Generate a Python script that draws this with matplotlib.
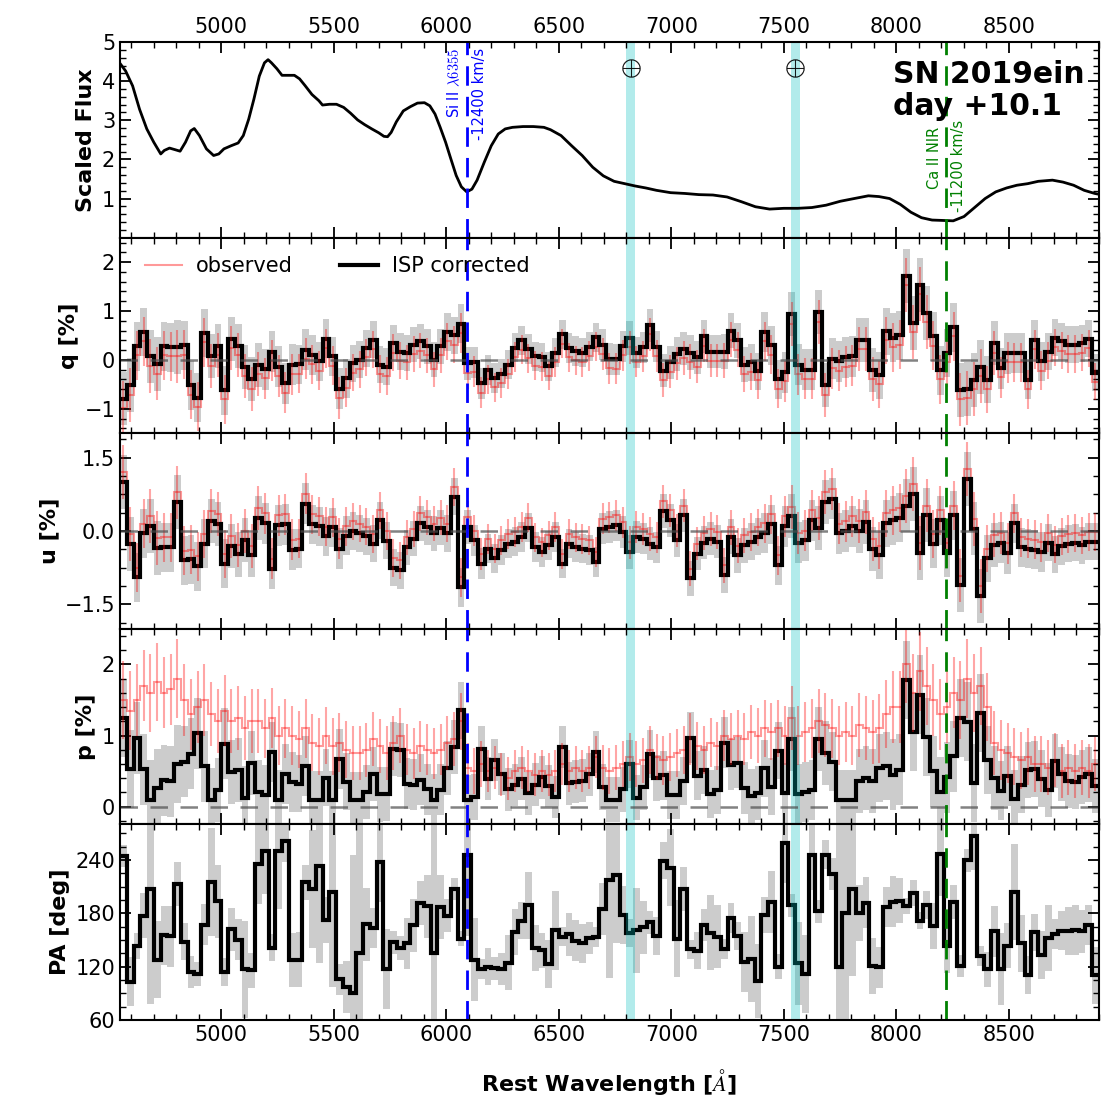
import numpy as np
import matplotlib
matplotlib.use('Agg')
import matplotlib.pyplot as plt
from matplotlib.ticker import MultipleLocator, AutoMinorLocator
from matplotlib.lines import Line2D

plt.rcParams['mathtext.fontset'] = 'cm'

# SPECTRUM ---------------------------------------------------------------------
flux_wave = [4548, 4575, 4606, 4637, 4653, 4669, 4700, 4731, 4747, 4770, 4794, 4817,
             4841, 4864, 4880, 4903, 4934, 4966, 4989, 5012, 5044, 5075, 5098, 5122,
             5145, 5169, 5192, 5208, 5223, 5247, 5270, 5294, 5325, 5348, 5372, 5403,
             5434, 5450, 5481, 5512, 5544, 5575, 5606, 5637, 5669, 5700, 5723, 5739,
             5755, 5778, 5809, 5841, 5872, 5903, 5927, 5950, 5973, 5997, 6020, 6044,
             6067, 6091, 6114, 6137, 6169, 6200, 6231, 6262, 6294, 6341, 6387, 6434,
             6463, 6510, 6557, 6604, 6651, 6698, 6746, 6793, 6840, 6887, 6934, 6997,
             7060, 7123, 7185, 7248, 7311, 7374, 7437, 7500, 7562, 7625, 7688, 7751,
             7813, 7876, 7923, 7970, 8018, 8065, 8112, 8159, 8206, 8253, 8301, 8348,
             8395, 8442, 8490, 8536, 8584, 8631, 8694, 8741, 8788, 8835, 8882, 8900]
flux = [4.47, 4.26, 3.88, 3.28, 3.03, 2.78, 2.44, 2.14, 2.23, 2.29, 2.25, 2.21,
        2.44, 2.73, 2.79, 2.61, 2.27, 2.10, 2.14, 2.27, 2.35, 2.42, 2.61, 3.03,
        3.54, 4.13, 4.47, 4.55, 4.47, 4.32, 4.15, 4.15, 4.15, 4.06, 3.89, 3.66,
        3.50, 3.39, 3.41, 3.41, 3.33, 3.18, 3.01, 2.89, 2.78, 2.68, 2.59, 2.58,
        2.69, 2.96, 3.24, 3.35, 3.44, 3.45, 3.37, 3.16, 2.82, 2.44, 2.02, 1.59,
        1.30, 1.17, 1.24, 1.47, 1.93, 2.35, 2.65, 2.78, 2.82, 2.84, 2.84, 2.82,
        2.76, 2.61, 2.35, 2.10, 1.80, 1.58, 1.44, 1.38, 1.32, 1.27, 1.21, 1.15,
        1.13, 1.10, 1.09, 1.04, 0.92, 0.79, 0.73, 0.75, 0.75, 0.77, 0.83, 0.93,
        1.00, 1.07, 1.05, 1.00, 0.85, 0.65, 0.51, 0.45, 0.44, 0.43, 0.54, 0.77,
        1.00, 1.17, 1.27, 1.34, 1.38, 1.44, 1.47, 1.42, 1.34, 1.21, 1.13, 1.11]

# POLARIMETRY (30 A bins, ISP corrected) ---------------------------------------
bin_edges = np.arange(4550, 8901, 30)
q_corr = [-0.79, -0.52, 0.28, 0.57, 0.07, -0.09, 0.28, 0.26, 0.26, 0.30,
          -0.52, -0.77, 0.55, 0.07, 0.28, -0.62, 0.43, 0.28, -0.14, -0.40,
          -0.10, -0.19, 0.17, -0.14, -0.48, -0.10, -0.09, 0.21, 0.10, -0.03,
          0.43, 0.07, -0.59, -0.38, -0.07, 0.00, 0.24, 0.41, -0.10, -0.14,
          0.34, 0.17, 0.14, 0.31, 0.38, 0.28, 0.00, 0.28, 0.57, 0.50,
          0.74, -0.07, -0.05, -0.48, -0.21, -0.37, -0.28, -0.10, 0.25, 0.40,
          0.22, 0.07, 0.05, -0.13, 0.15, 0.52, 0.24, 0.18, 0.15, 0.27,
          0.46, 0.31, 0.02, 0.01, 0.28, 0.45, 0.15, 0.26, 0.71, 0.27,
          -0.22, -0.05, 0.12, 0.23, 0.15, 0.05, 0.48, 0.17, 0.17, 0.17,
          0.60, 0.40, -0.10, -0.05, -0.23, 0.57, 0.30, -0.40, -0.25, 0.93,
          -0.10, -0.20, -0.20, 0.97, -0.52, 0.02, -0.03, 0.05, 0.07, 0.41,
          0.41, -0.20, -0.31, 0.59, 0.45, 0.50, 1.72, 0.76, 1.53, 0.96,
          0.48, -0.21, 0.14, 0.67, -0.62, -0.59, -0.41, -0.14, -0.41, 0.34,
          -0.17, 0.14, 0.14, 0.14, -0.41, 0.41, -0.03, 0.17, 0.45, 0.38,
          0.31, 0.31, 0.34, 0.43, -0.26]
u_corr = [1.00, -0.26, -0.95, -0.05, 0.10, -0.35, -0.33, -0.33, 0.59, -0.60,
          -0.58, -0.72, -0.26, 0.20, 0.14, -0.67, -0.31, -0.48, -0.19, -0.50,
          0.27, 0.16, -0.77, 0.12, 0.14, -0.38, -0.36, 0.56, 0.14, 0.10,
          -0.11, 0.08, -0.36, -0.10, 0.00, -0.05, -0.11, -0.26, 0.22, -0.20,
          -0.75, -0.80, -0.33, -0.16, 0.16, 0.08, -0.05, 0.07, -0.05, 0.70,
          -1.15, 0.08, -0.19, -0.67, -0.36, -0.56, -0.39, -0.26, -0.22, -0.12,
          0.07, -0.33, -0.43, -0.29, -0.12, -0.67, -0.26, -0.33, -0.36, -0.39,
          -0.63, 0.05, 0.08, 0.12, -0.02, -0.43, -0.12, -0.16, -0.26, -0.33,
          0.41, 0.22, -0.19, 0.32, -0.97, -0.46, -0.24, -0.16, -0.22, -0.90,
          -0.12, -0.50, -0.29, -0.22, -0.12, -0.04, 0.14, -0.70, 0.10, 0.30,
          -0.24, -0.19, 0.22, 0.07, 0.59, 0.66, -0.05, 0.00, 0.10, 0.01,
          0.18, -0.36, -0.50, 0.16, 0.22, 0.27, 0.52, 0.76, -0.45, 0.32,
          -0.26, 0.22, -0.45, 0.32, -1.11, 1.07, 0.05, -1.33, -0.56, -0.29,
          -0.24, -0.45, 0.16, -0.33, -0.36, -0.38, -0.43, -0.24, -0.48, -0.31,
          -0.26, -0.24, -0.29, -0.22, -0.22]
pol_err = [0.55, 0.55, 0.50, 0.50, 0.55, 0.55, 0.50, 0.50, 0.55, 0.50,
           0.50, 0.50, 0.50, 0.45, 0.45, 0.50, 0.45, 0.45, 0.45, 0.45,
           0.45, 0.42, 0.42, 0.42, 0.42, 0.42, 0.40, 0.42, 0.40, 0.40,
           0.40, 0.40, 0.42, 0.40, 0.38, 0.38, 0.38, 0.38, 0.38, 0.38,
           0.38, 0.38, 0.36, 0.36, 0.36, 0.36, 0.36, 0.36, 0.38, 0.38,
           0.40, 0.34, 0.32, 0.32, 0.30, 0.30, 0.30, 0.30, 0.30, 0.30,
           0.30, 0.30, 0.30, 0.30, 0.30, 0.30, 0.30, 0.30, 0.30, 0.30,
           0.30, 0.32, 0.32, 0.32, 0.32, 0.34, 0.32, 0.32, 0.34, 0.32,
           0.34, 0.34, 0.34, 0.34, 0.36, 0.34, 0.34, 0.34, 0.34, 0.36,
           0.36, 0.36, 0.36, 0.38, 0.38, 0.40, 0.40, 0.40, 0.42, 0.45,
           0.42, 0.42, 0.42, 0.45, 0.45, 0.42, 0.42, 0.42, 0.42, 0.45,
           0.45, 0.45, 0.48, 0.48, 0.50, 0.50, 0.55, 0.55, 0.55, 0.55,
           0.50, 0.50, 0.50, 0.50, 0.55, 0.55, 0.55, 0.55, 0.48, 0.45,
           0.42, 0.42, 0.40, 0.40, 0.40, 0.40, 0.40, 0.38, 0.38, 0.38,
           0.38, 0.38, 0.38, 0.38, 0.38]
# observed (not ISP corrected) polarization degree
p_observed = [1.50, 1.35, 1.50, 1.70, 1.60, 1.75, 1.60, 1.65, 1.80, 1.50,
              1.30, 1.40, 1.50, 1.30, 1.20, 1.35, 1.20, 1.25, 1.10, 1.20,
              1.20, 1.10, 1.25, 1.00, 1.10, 1.00, 0.95, 1.10, 0.90, 0.85,
              1.00, 0.85, 0.90, 0.80, 0.75, 0.75, 0.80, 0.95, 0.85, 0.75,
              0.90, 1.00, 0.80, 0.75, 0.85, 0.80, 0.75, 0.80, 0.90, 0.95,
              1.20, 0.55, 0.50, 0.60, 0.50, 0.55, 0.45, 0.40, 0.50, 0.55,
              0.50, 0.45, 0.50, 0.45, 0.50, 0.60, 0.50, 0.55, 0.50, 0.55,
              0.70, 0.55, 0.50, 0.55, 0.60, 0.70, 0.60, 0.65, 0.80, 0.70,
              0.65, 0.70, 0.75, 0.80, 0.95, 0.85, 0.80, 0.90, 0.85, 1.00,
              0.95, 1.00, 0.95, 1.05, 1.00, 1.10, 1.05, 1.10, 1.00, 1.25,
              1.00, 1.05, 1.10, 1.20, 1.15, 1.10, 1.00, 1.05, 1.00, 1.15,
              1.10, 1.05, 1.10, 1.30, 1.40, 1.40, 2.00, 1.60, 1.90, 1.70,
              1.50, 1.30, 1.40, 1.60, 1.50, 1.80, 1.60, 1.70, 1.40, 0.90,
              0.80, 0.75, 0.70, 0.65, 0.70, 0.60, 0.60, 0.55, 0.65, 0.50,
              0.55, 0.50, 0.55, 0.50, 0.60]
q_isp, u_isp = -0.19, 0.20

si_wave, ca_wave = 6092, 8223
telluric = [(6800, 6840), (7530, 7570)]

# DERIVED ----------------------------------------------------------------------
centers = 0.5 * (bin_edges[1:] + bin_edges[:-1])
q = np.array(q_corr)
u = np.array(u_corr)
err = np.array(pol_err)
q_obs = q + q_isp
u_obs = u + u_isp
p_raw = np.hypot(q, u)
# debiased polarization degree
p = np.sqrt(np.clip(p_raw**2 - (0.45 * err)**2, 0.01, None))
pa = np.degrees(0.5 * np.arctan2(u, q)) % 180
pa[pa < 90] += 180
pa_err = np.degrees(0.5 * err / np.maximum(p_raw, 1e-3))

# PLOT -------------------------------------------------------------------------
fig = plt.figure(figsize=(11.01, 11.07), dpi=100)
gs = fig.add_gridspec(5, 1, left=0.109, right=0.998, top=0.962, bottom=0.0786,
                      hspace=0)
axes = [fig.add_subplot(gs[i]) for i in range(5)]
for ax in axes[1:]:
    ax.sharex(axes[0])

ax = axes[0]
ax.plot(flux_wave, flux, 'k-', lw=2)
ax.set_ylim(0, 5)
ax.set_yticks([1, 2, 3, 4, 5])
ax.set_ylabel('Scaled Flux', fontsize=16, fontweight='bold')
ax.text(si_wave - 22, 4.85, 'Si II $\\lambda6355$', rotation=90, ha='right',
        va='top', color='b', fontsize=10.5)
ax.text(si_wave + 22, 4.85, '-12400 km/s', rotation=90, ha='left', va='top',
        color='b', fontsize=10.5)
ax.text(ca_wave - 22, 2.84, 'Ca II NIR', rotation=90, ha='right', va='top',
        color='g', fontsize=10.5)
ax.text(ca_wave + 22, 3.0, '-11200 km/s', rotation=90, ha='left', va='top',
        color='g', fontsize=10.5)
ax.text(7985, 4.55, 'SN 2019ein\nday +10.1', fontsize=21.5, fontweight='bold',
        ha='left', va='top', linespacing=1.15)
for lo, hi in telluric:
    ax.plot(0.5 * (lo + hi), 4.34, marker='$\\oplus$', ms=13, color='k',
            mew=0.2)


def pol_panel(ax, obs, corr, e):
    ax.stairs(np.array(corr) + e, bin_edges, baseline=np.array(corr) - e,
              fill=True, color='0.5', alpha=0.4, lw=0)
    ax.stairs(obs, bin_edges, baseline=None, color='r', alpha=0.4, lw=1.5)
    ax.errorbar(centers, obs, yerr=e, fmt='none', ecolor='r', alpha=0.35,
                elinewidth=1.5)
    ax.stairs(corr, bin_edges, baseline=None, color='k', lw=3)
    ax.axhline(0, color='0.3', ls='--', lw=1.8, alpha=0.7, dashes=(7, 5))


pol_panel(axes[1], q_obs, q, err)
axes[1].set_ylim(-1.5, 2.5)
axes[1].set_yticks([-1, 0, 1, 2])
axes[1].set_ylabel('q [%]', fontsize=16, fontweight='bold')
handles = [Line2D([], [], color='r', alpha=0.4, lw=1.5),
           Line2D([], [], color='k', lw=3)]
axes[1].legend(handles, ['observed', 'ISP corrected'], loc='upper left', ncol=2,
               frameon=False, fontsize=15, handlelength=1.8, handletextpad=0.65,
               columnspacing=2.3, borderaxespad=0.5, bbox_to_anchor=(0.006, 1.0))

pol_panel(axes[2], u_obs, u, err)
axes[2].set_ylim(-2, 2)
axes[2].set_yticks([-1.5, 0.0, 1.5])
axes[2].set_ylabel('u [%]', fontsize=16, fontweight='bold')

pol_panel(axes[3], p_observed, p, err)
axes[3].set_ylim(-0.25, 2.5)
axes[3].set_yticks([0, 1, 2])
axes[3].set_ylabel('p [%]', fontsize=16, fontweight='bold')

ax = axes[4]
ax.stairs(pa + pa_err, bin_edges, baseline=pa - pa_err, fill=True, color='0.5',
          alpha=0.4, lw=0)
ax.stairs(pa, bin_edges, baseline=None, color='k', lw=3)
ax.set_ylim(60, 280)
ax.set_yticks([60, 120, 180, 240])
ax.set_ylabel('PA [deg]', fontsize=16, fontweight='bold')
ax.set_xlabel('Rest Wavelength [$\\AA$]', fontsize=16, fontweight='bold',
              labelpad=16)

for ax in axes:
    ax.axvline(si_wave, color='b', ls='--', lw=2, dashes=(7, 4))
    ax.axvline(ca_wave, color='g', ls='--', lw=2, dashes=(7, 4))
    for lo, hi in telluric:
        ax.axvspan(lo, hi, color='c', alpha=0.3, lw=0)
    ax.set_xlim(4550, 8900)
    ax.xaxis.set_major_locator(MultipleLocator(500))
    ax.xaxis.set_minor_locator(MultipleLocator(100))
    ax.yaxis.set_minor_locator(AutoMinorLocator())
    ax.tick_params(which='both', direction='in', top=True, right=True,
                   labelsize=15)
    ax.tick_params(which='major', length=8, width=1.3)
    ax.tick_params(which='minor', length=4, width=1)
    for s in ax.spines.values():
        s.set_linewidth(1.5)
    if ax is not axes[4]:
        ax.tick_params(labelbottom=False)

axes[0].tick_params(labeltop=True)

fig.savefig('out.png', dpi=100)
